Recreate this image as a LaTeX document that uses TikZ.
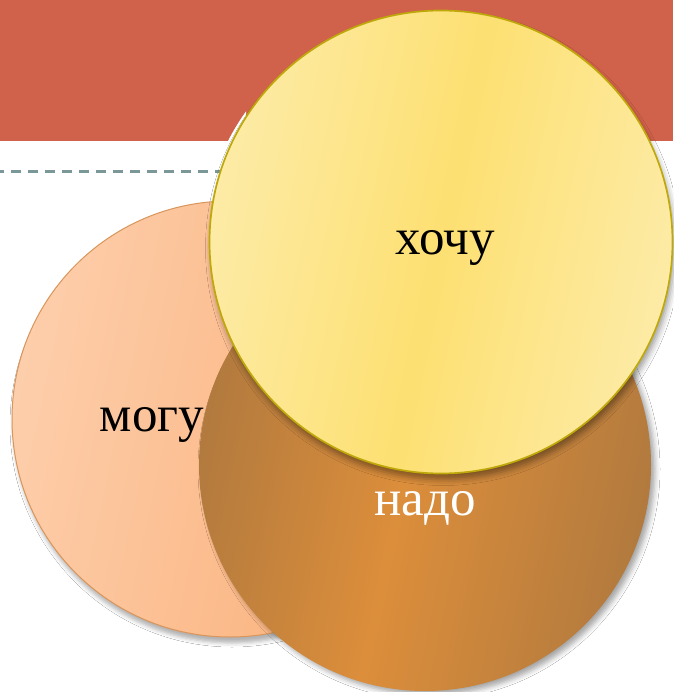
\documentclass[tikz,border=0pt]{standalone}
\usepackage{fontspec}
\setmainfont{Liberation Serif}
\usetikzlibrary{shadows.blur}
\definecolor{band}{HTML}{D0614A}
\definecolor{dashc}{HTML}{7A9898}
\definecolor{peachL}{HTML}{FDCEAB}
\definecolor{peachR}{HTML}{FBB683}
\definecolor{peachB}{HTML}{D9955A}
\definecolor{brownD}{HTML}{B27A3E}
\definecolor{brownM}{HTML}{DC8E3B}
\definecolor{yelL}{HTML}{FDEBA6}
\definecolor{yelM}{HTML}{FDE072}
\definecolor{yelB}{HTML}{BFA90A}
\pgfdeclarehorizontalshading{peachsh}{100bp}{color(0bp)=(peachL); color(25bp)=(peachL); color(62bp)=(peachR); color(100bp)=(peachR)}
\pgfdeclarehorizontalshading{brownsh}{100bp}{color(0bp)=(brownD); color(25bp)=(brownD); color(48bp)=(brownM); color(75bp)=(brownD); color(100bp)=(brownD)}
\pgfdeclarehorizontalshading{yelsh}{100bp}{color(0bp)=(yelL); color(25bp)=(yelL); color(50bp)=(yelM); color(75bp)=(yelL); color(100bp)=(yelL)}
\tikzset{
  bubble/.style={circle, inner sep=0pt, outer sep=0pt},
  peachc/.style={bubble, draw=peachB, line width=1pt, shade, shading=peachsh, shading angle=-12,
     blur shadow={shadow xshift=2pt, shadow yshift=-6pt, shadow blur radius=4pt, shadow opacity=30}},
  brownc/.style={bubble, shade, shading=brownsh, shading angle=-12,
     blur shadow={shadow xshift=4pt, shadow yshift=-4pt, shadow blur radius=5pt, shadow opacity=35}},
  yelc/.style={bubble, draw=yelB, line width=1.7pt, shade, shading=yelsh, shading angle=-12,
     blur shadow={shadow xshift=2pt, shadow yshift=-6pt, shadow blur radius=6pt, shadow opacity=40}},
  lbl/.style={font=\fontsize{51}{60}\selectfont, inner sep=0pt}
}
\begin{document}
\begin{tikzpicture}[x=1pt,y=-1pt]
\useasboundingbox (0,0) rectangle (673,692);
\fill[white] (0,0) rectangle (673,692);
\fill[band] (0,0) rectangle (673,141);
\draw[dashc, line width=3pt, dash pattern=on 10pt off 7pt, dash phase=6pt] (0,172) -- (225,172);
\begin{scope}
  \clip (200,100) rectangle (246,141);
  \fill[white] (436,247) circle (233.4);
\end{scope}
\node[peachc, minimum size=436pt] (mogu) at (230,419) {};
\node[brownc, minimum size=452pt] (nado) at (425,465) {};
\node[yelc, minimum size=463pt] (hochu) at (441,242) {};
\node[lbl] (tmogu) at (152,425) {могу};
\node[lbl, text=white] (tnado) at (425,508) {надо};
\node[lbl] (thochu) at (445,248) {хочу};
\end{tikzpicture}
\end{document}
